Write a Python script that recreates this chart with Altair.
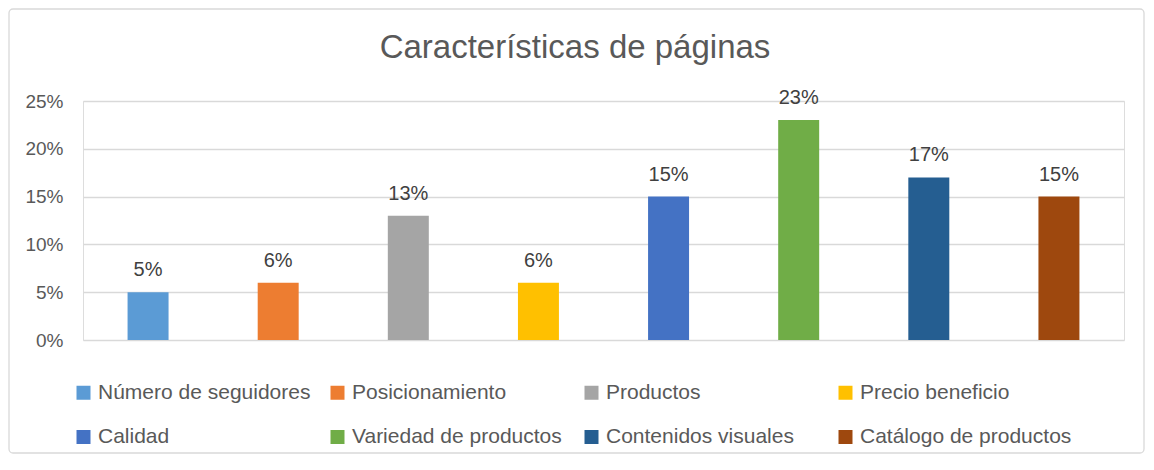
import altair as alt
import pandas as pd

titulo = "Características de páginas"
categorias = ["Número de seguidores", "Posicionamiento", "Productos", "Precio beneficio",
              "Calidad", "Variedad de productos", "Contenidos visuales", "Catálogo de productos"]
valores = [0.05, 0.06, 0.13, 0.06, 0.15, 0.23, 0.17, 0.15]
colores = ["#5B9BD5", "#ED7D31", "#A5A5A5", "#FFC000", "#4472C4", "#70AD47", "#255E91", "#9E480E"]
ticks_y = [0, 0.05, 0.10, 0.15, 0.20, 0.25]

df = pd.DataFrame({"cat": categorias, "val": valores})
FONT = "Liberation Sans"

x = alt.X("cat:N", sort=categorias, axis=None,
          scale=alt.Scale(paddingInner=0.685, paddingOuter=0.3425))
y = alt.Y("val:Q", scale=alt.Scale(domain=[0, 0.25], nice=False),
          axis=alt.Axis(values=ticks_y, format=".0%", title=None, domain=False, ticks=False,
                        labelPadding=20, labelFontSize=19, labelColor="#595959", labelFont=FONT,
                        gridColor="#D9D9D9", gridWidth=1.3))

bars = alt.Chart(df).mark_bar().encode(
    x=x, y=y,
    color=alt.Color("cat:N", sort=categorias,
                    scale=alt.Scale(domain=categorias, range=colores),
                    legend=alt.Legend(title=None, orient="none", legendX=-10, legendY=281,
                                      columns=4, gridAlign="all", direction="horizontal",
                                      symbolType="square", symbolSize=196, symbolStrokeWidth=0,
                                      labelFontSize=21, labelFont=FONT, labelColor="#595959",
                                      labelOffset=4, labelLimit=300, rowPadding=22.5,
                                      columnPadding=16))
)

labels = alt.Chart(df).mark_text(baseline="bottom", dy=-12, fontSize=20, font=FONT,
                                 color="#404040").encode(
    x=x, y=alt.Y("val:Q"), text=alt.Text("val:Q", format=".0%")
)

title_df = pd.DataFrame({"t": [titulo]})
title = alt.Chart(title_df).mark_text(fontSize=33, font=FONT, color="#595959",
                                      baseline="middle", align="center").encode(
    x=alt.value(492), y=alt.value(-53), text="t:N"
)

frame_df = pd.DataFrame({"f": [1]})
frame = alt.Chart(frame_df).mark_rect(fill=None, stroke="#D9D9D9", strokeWidth=1.3,
                                      cornerRadius=4).encode(
    x=alt.value(-74), x2=alt.value(1061), y=alt.value(-92), y2=alt.value(352)
)

chart = alt.layer(frame, bars, labels, title).properties(
    width=1041, height=239,
    autosize=alt.AutoSizeParams(type="none"),
    padding={"left": 75, "top": 93, "right": 21, "bottom": 115},
).configure_view(stroke=None).configure(background="white")

chart.save("out.html", embed_options={"renderer": "svg", "actions": False})
